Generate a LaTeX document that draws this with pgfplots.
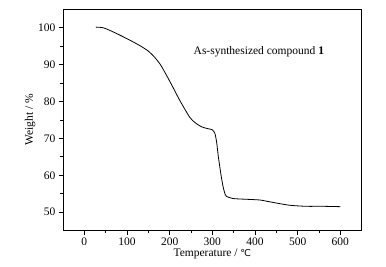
\documentclass[border=0pt]{standalone}
\usepackage{fontspec}
\setmainfont{Liberation Serif}
\newfontfamily\symfont{DejaVu Sans}
\usepackage{pgfplots}
\pgfplotsset{compat=1.18}
\begin{document}
\begin{tikzpicture}
\begin{axis}[
  scale only axis,
  width=298.7pt, height=221.7pt,
  xmin=-50, xmax=650, ymin=45, ymax=105,
  xtick={0,100,...,600}, ytick={50,60,...,100},
  minor x tick num=1, minor y tick num=1,
  axis x line*=bottom, axis y line*=left,
  tick align=outside,
  major tick length=4pt, minor tick length=2.5pt,
  tick style={black, line width=0.6pt},
  axis line style={line width=0.7pt},
  /pgf/number format/assume math mode=true,
  ticklabel style={font=\fontsize{11.5}{13}\selectfont},
  label style={font=\fontsize{11.5}{13}\selectfont},
  xlabel={Temperature / {\symfont\fontsize{9.5}{11}\selectfont ℃}},
  ylabel={Weight / \%},
  xlabel style={yshift=4pt},
  ylabel style={yshift=-4pt},
  clip=false,
]
\addplot[black, line width=0.8pt, smooth, tension=0.4] coordinates {
(27,100.1) (40,100) (50,99.7) (75,98.4) (106,96.6) (130,95.1) (150,93.6)
(165,91.9) (178,90) (190,87.6) (205,84.4) (224,80.2) (247,75.7) (260,74.2)
(275,73.1) (290,72.6) (300,72.3) (306,71.3) (310,69) (314,65.1) (320,60.3)
(325,57) (329,55.2) (333,54.3) (349,53.7) (380,53.5) (412,53.3) (440,52.7)
(480,51.9) (520,51.6) (560,51.6) (600,51.5)
};
\node[font=\fontsize{11.5}{13}\selectfont] at (axis cs:409,93.3) {As-synthesized compound \textbf{1}};
\draw[line width=0.7pt] (rel axis cs:0,1) -- (rel axis cs:1,1) -- (rel axis cs:1,0);
\end{axis}
\path ([shift={(-63pt,-36.3pt)}]current axis.south west) rectangle ([shift={(24.3pt,9pt)}]current axis.north east);
\end{tikzpicture}
\end{document}
